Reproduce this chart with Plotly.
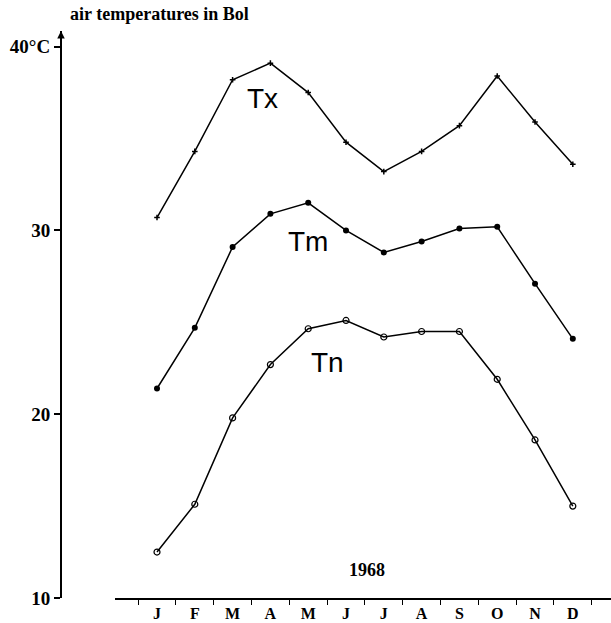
import plotly.graph_objects as go

months = ["J", "F", "M", "A", "M", "J", "J", "A", "S", "O", "N", "D"]
tx = [30.7, 34.3, 38.2, 39.1, 37.5, 34.8, 33.2, 34.3, 35.7, 38.4, 35.9, 33.6]
tm = [21.4, 24.7, 29.1, 30.9, 31.5, 30.0, 28.8, 29.4, 30.1, 30.2, 27.1, 24.1]
tn = [12.5, 15.1, 19.8, 22.7, 24.65, 25.1, 24.2, 24.5, 24.5, 21.9, 18.6, 15.0]
ytick_vals = [10, 20, 30, 40]
ytick_text = ["10", "20", "30", "40°C"]
series_labels = ["Tx", "Tm", "Tn"]

xk = list(range(len(months)))
boundaries = [k - 0.5 for k in range(len(months) + 1)]

serif = "Liberation Serif"
sans = "Liberation Sans"

fig = go.Figure()
fig.add_trace(go.Scatter(x=xk, y=tx, mode="lines+markers",
                         line=dict(color="black", width=1.5),
                         marker=dict(symbol="cross-thin", size=4, color="black",
                                     line=dict(width=1.5, color="black"))))
fig.add_trace(go.Scatter(x=xk, y=tm, mode="lines+markers",
                         line=dict(color="black", width=1.5),
                         marker=dict(symbol="circle", size=6, color="black")))
fig.add_trace(go.Scatter(x=xk, y=tn, mode="lines+markers",
                         line=dict(color="black", width=1.5),
                         marker=dict(symbol="circle-open", size=6, color="black",
                                     line=dict(width=1.2, color="black"))))

annots = [
    dict(x=2.80, y=37.2, text=series_labels[0]),
    dict(x=3.99, y=29.4, text=series_labels[1]),
    dict(x=4.50, y=22.8, text=series_labels[2]),
]
for a in annots:
    fig.add_annotation(x=a["x"], y=a["y"], text=a["text"], showarrow=False,
                       font=dict(family=sans, size=28, color="black"))

fig.add_annotation(x=5.56, y=11.54, text="<b>1968</b>", showarrow=False,
                   font=dict(family=serif, size=18, color="black"))

fig.add_annotation(xref="paper", yref="paper", x=0.0127, y=1, yshift=17,
                   xanchor="left", yanchor="middle", showarrow=False,
                   text="<b>air temperatures in Bol</b>",
                   font=dict(family=serif, size=18, color="black"))

# arrow head on the y axis
fig.add_annotation(xref="paper", yref="y", x=0, y=40.85, ax=0, ay=12,
                   showarrow=True, arrowhead=2, arrowsize=1, arrowwidth=1.5,
                   arrowcolor="black", text="")

fig.update_layout(
    width=611, height=623,
    margin=dict(l=61, r=0, t=31, b=25),
    paper_bgcolor="white", plot_bgcolor="white",
    showlegend=False,
    xaxis=dict(domain=[(115 - 61) / 550, 1], range=[-1.111, 12.01],
               tickvals=xk, ticktext=["<b>%s</b>" % m for m in months],
               ticks="", showline=True, linecolor="black", linewidth=1.5,
               showgrid=False, zeroline=False,
               tickfont=dict(family=serif, size=16, color="black"),
               minor=dict(tickvals=boundaries, ticks="outside", ticklen=5,
                          tickcolor="black", tickwidth=1.2, showgrid=False)),
    yaxis=dict(anchor="free", position=0, range=[10, 40.85],
               tickvals=ytick_vals, ticktext=["<b>%s</b>" % t for t in ytick_text],
               ticks="outside", ticklen=6, tickwidth=1.5, tickcolor="black",
               showline=True, linecolor="black", linewidth=2,
               showgrid=False, zeroline=False,
               tickfont=dict(family=serif, size=19, color="black")),
)

fig.write_html("out.html")
